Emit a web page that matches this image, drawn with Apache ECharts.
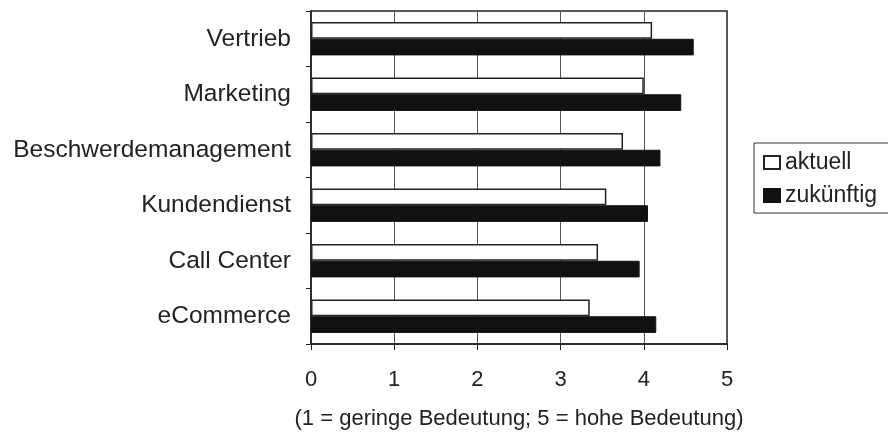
<!DOCTYPE html>
<html>
<head>
<meta charset="utf-8">
<script src="https://cdn.jsdelivr.net/npm/echarts@6/dist/echarts.min.js"></script>
<style>
  html, body { margin: 0; padding: 0; background: #fff; }
  #main { width: 888px; height: 432px; }
</style>
</head>
<body>
<div id="main"></div>
<script>
// Bedeutung der Bereiche (1 = gering, 5 = hoch)
const categories = ["Vertrieb", "Marketing", "Beschwerdemanagement", "Kundendienst", "Call Center", "eCommerce"];
const aktuell = [4.1, 4.0, 3.75, 3.55, 3.45, 3.35];
const zukuenftig = [4.6, 4.45, 4.2, 4.05, 3.95, 4.15];
const xTicks = [0, 1, 2, 3, 4, 5];

var myChart = echarts.init(document.getElementById("main"));
const fontFamily = "Liberation Sans, Arial, sans-serif";

myChart.setOption({
  animation: false,
  backgroundColor: "#fff",
  textStyle: { fontFamily: fontFamily, color: "#222" },
  grid: {
    left: 311,
    right: 161,
    top: 11,
    bottom: 88,
    outerBoundsMode: "none",
    show: true,
    borderColor: "#222",
    borderWidth: 1.5
  },
  legend: {
    orient: "vertical",
    left: 754,
    top: 143,
    padding: [8, 40, 6, 9],
    itemGap: 10,
    itemWidth: 16,
    itemHeight: 13,
    borderColor: "#333",
    borderWidth: 1,
    textStyle: { fontSize: 23, lineHeight: 23, color: "#222", fontFamily: fontFamily },
    data: [
      { name: "aktuell", icon: "rect" },
      { name: "zukünftig", icon: "rect" }
    ]
  },
  xAxis: {
    type: "value",
    min: xTicks[0],
    max: xTicks[xTicks.length - 1],
    interval: 1,
    name: "(1 = geringe Bedeutung; 5 = hohe Bedeutung)",
    nameLocation: "middle",
    nameGap: 64,
    nameTextStyle: { fontSize: 22, color: "#222" },
    axisLine: { show: true, lineStyle: { color: "#222", width: 1.5 } },
    axisTick: { show: true, length: 6, lineStyle: { color: "#222" } },
    axisLabel: { fontSize: 22, color: "#222", margin: 25 },
    splitLine: { show: true, lineStyle: { color: "#555", width: 1 } }
  },
  yAxis: {
    type: "category",
    data: categories,
    inverse: true,
    axisLine: { show: true, lineStyle: { color: "#222", width: 1.5 } },
    axisTick: { show: true, length: 5, lineStyle: { color: "#222" } },
    axisLabel: { fontSize: 24.5, color: "#222", margin: 20 },
    splitLine: { show: false }
  },
  series: [
    {
      name: "aktuell",
      type: "bar",
      data: aktuell,
      barGap: "0%",
      barCategoryGap: "40%",
      itemStyle: { color: "#fff", borderColor: "#222", borderWidth: 1.5 }
    },
    {
      name: "zukünftig",
      type: "bar",
      data: zukuenftig,
      barGap: "0%",
      barCategoryGap: "40%",
      itemStyle: { color: "#111", borderColor: "#111", borderWidth: 1 }
    }
  ]
});
</script>
</body>
</html>
